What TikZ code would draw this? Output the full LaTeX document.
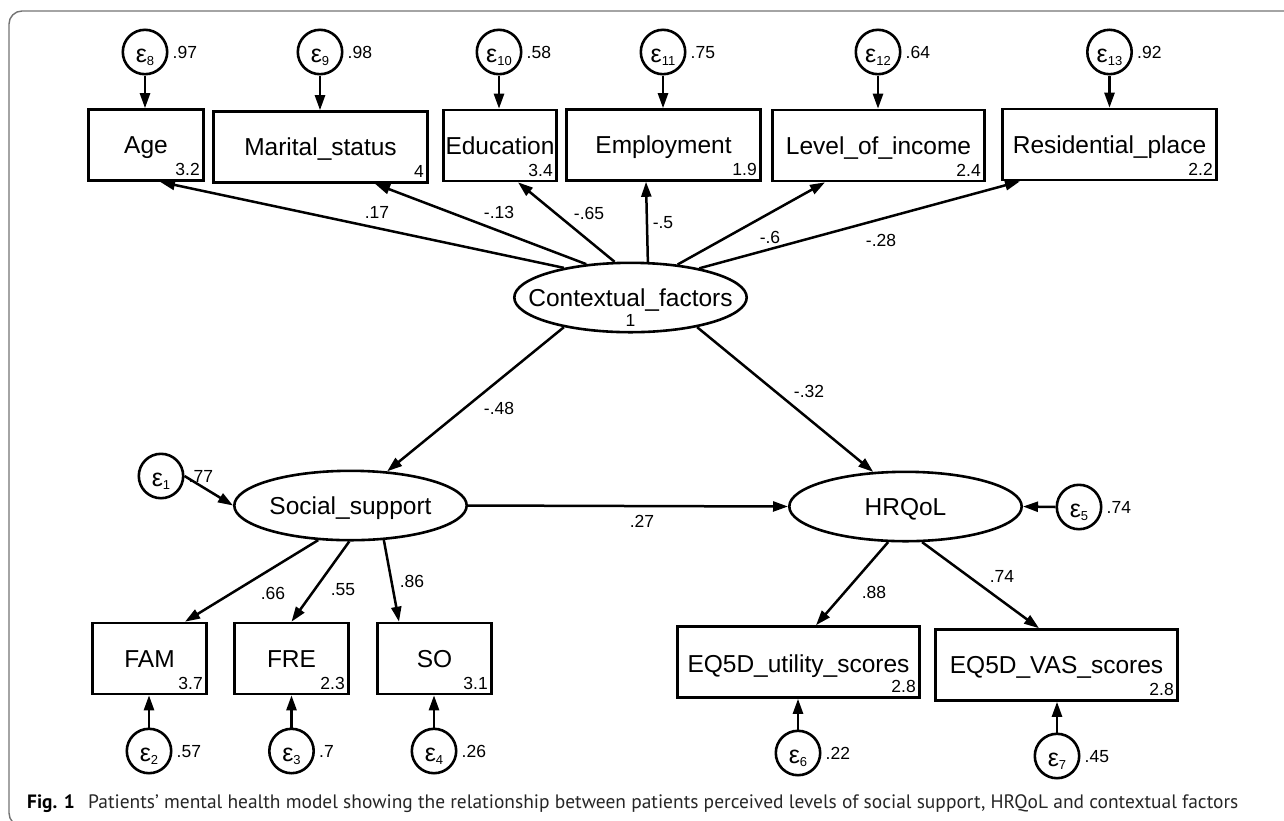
\documentclass[tikz,border=0pt]{standalone}
\usepackage{fontspec}
\setmainfont{Liberation Sans}
\newfontfamily\capfont{PT Sans}
\usetikzlibrary{arrows.meta,shapes.geometric}
\tikzset{
  obs/.style={draw, line width=2.6pt, rectangle, minimum height=71pt, inner sep=0pt,
    font=\fontsize{24.5}{28}\selectfont, text height=17.5pt, text depth=0pt},
  lat/.style={draw, line width=2.6pt, ellipse, minimum width=232.4pt, minimum height=69.4pt, inner sep=0pt,
    font=\fontsize{24.5}{28}\selectfont, text height=17.5pt, text depth=0pt},
  err/.style={draw, line width=2.6pt, circle, minimum size=44.4pt, inner sep=0pt,
    font=\fontsize{25}{28}\selectfont, text height=13pt, text depth=0pt},
  num/.style={inner sep=0pt, font=\fontsize{17.5}{20}\selectfont, text height=12.5pt, text depth=0pt},
  var/.style={num, anchor=west, xshift=4pt},
  mean/.style={label={[num, anchor=south east, xshift=-5pt, yshift=6pt]south east:#1}},
  pth/.style={line width=2.5pt, -{Triangle[length=15pt,width=10pt]}},
  frame/.style={draw=black!55, line width=1.4pt, rounded corners=13pt},
}
\newcommand{\eps}[1]{\raisebox{-4pt}{ε\raisebox{-2.5pt}{\fontsize{13}{13}\selectfont #1}}}
\begin{document}
\begin{tikzpicture}[x=1pt, y=-1pt]
\useasboundingbox (0,0) rectangle (1284,820);
\begin{scope}
\clip (0,0) rectangle (1284,820);
\draw[frame] (1310,11) -- (9,11) -- (9,826) -- (1310,826);
\end{scope}

% top observed
\node[obs, minimum width=115.4pt, mean=3.2] (age) at (146,145) {Age};
\node[obs, minimum width=214.4pt, mean=4] (mar) at (320.5,147) {Marital\_status};
\node[obs, minimum width=113.4pt, mean=3.4] (edu) at (500,145.5) {Education};
\node[obs, minimum width=194.4pt, mean=1.9] (emp) at (663.5,145) {Employment};
\node[obs, minimum width=212.4pt, mean=2.4] (inc) at (878.5,145.5) {Level\_of\_income};
\node[obs, minimum width=214.4pt, mean=2.2] (res) at (1109.5,144.5) {Residential\_place};

% top errors
\node[err] (e8) at (145,52) {\eps{8}};
\node[err] (e9) at (320,52) {\eps{9}};
\node[err] (e10) at (499,52) {\eps{10}};
\node[err] (e11) at (663,52) {\eps{11}};
\node[err] (e12) at (878,52) {\eps{12}};
\node[err] (e13) at (1109.5,52) {\eps{13}};
\node[var] (v8) at (e8.east) {.97};
\node[var] (v9) at (e9.east) {.98};
\node[var] (v10) at (e10.east) {.58};
\node[var] (v11) at (e11.east) {.75};
\node[var] (v12) at (e12.east) {.64};
\node[var] (v13) at (e13.east) {.92};

% latents
\node[lat] (ctx) at (630.5,297.5) {\makebox[0pt]{Contextual\_factors}};
\node[num] (ctxm) at (630.5,320.5) {1};
\node[lat] (soc) at (350.5,505.5) {\makebox[0pt]{Social\_support}};
\node[lat] (hrq) at (905.5,506.5) {\makebox[0pt]{HRQoL}};

% bottom observed
\node[obs, minimum width=114.4pt, mean=3.7] (fam) at (149.5,658.5) {FAM};
\node[obs, minimum width=114.4pt, mean=2.3] (fre) at (291.5,658.5) {FRE};
\node[obs, minimum width=114.4pt, mean=3.1] (so) at (434.5,658.5) {SO};
\node[obs, minimum width=242.4pt, mean=2.8] (utl) at (798.5,662) {\raisebox{-2pt}{EQ5D\_utility\_scores}};
\node[obs, minimum width=242.4pt, mean=2.8] (vas) at (1056.5,665) {EQ5D\_VAS\_scores};

% other errors
\node[err] (e1) at (161,476) {\eps{1}};
\node[err] (e2) at (149,751) {\eps{2}};
\node[err] (e3) at (291.5,751) {\eps{3}};
\node[err] (e4) at (434,751) {\eps{4}};
\node[err] (e5) at (1079,507) {\eps{5}};
\node[err] (e6) at (798,753) {\eps{6}};
\node[err] (e7) at (1057,756) {\eps{7}};
\node[var] (v1) at (e1.east) {.77};
\node[var] (v2) at (e2.east) {.57};
\node[var] (v3) at (e3.east) {.7};
\node[var] (v4) at (e4.east) {.26};
\node[var] (v5) at (e5.east) {.74};
\node[var] (v6) at (e6.east) {.22};
\node[var] (v7) at (e7.east) {.45};

% error paths
\draw[pth] (e8.south) -- (e8.south |- age.north);
\draw[pth] (e9.south) -- (e9.south |- mar.north);
\draw[pth] (e10.south) -- (e10.south |- edu.north);
\draw[pth] (e11.south) -- (e11.south |- emp.north);
\draw[pth] (e12.south) -- (e12.south |- inc.north);
\draw[pth] (e13.south) -- (e13.south |- res.north);
\draw[pth] (e2.north) -- (e2.north |- fam.south);
\draw[pth] (e3.north) -- (e3.north |- fre.south);
\draw[pth] (e4.north) -- (e4.north |- so.south);
\draw[pth] (e6.north) -- (e6.north |- utl.south);
\draw[pth] (e7.north) -- (e7.north |- vas.south);
\draw[pth] (e1.east) -- (soc.west);
\draw[pth] (e5.west) -- (hrq.east);

% structural paths
\draw[pth] (ctx.156.8) -- ([xshift=14pt]age.south);
\draw[pth] (ctx.143.3) -- ([xshift=54.5pt]mar.south);
\draw[pth] (ctx.114.7) -- ([xshift=18pt]edu.south);
\draw[pth] (ctx.64) -- ([xshift=-17.5pt]emp.south);
\draw[pth] (ctx.35) -- ([xshift=-53.5pt]inc.south);
\draw[pth] (ctx.23.3) -- ([xshift=-89.5pt]res.south);
\draw[pth] (ctx.204.5) -- (soc.43);
\draw[pth] (ctx.336) -- (hrq.133.3);
\draw[pth] (soc.east) -- (hrq.west);
\draw[pth] (soc.227.2) -- ([xshift=35.5pt]fam.north);
\draw[pth] (soc.268) -- (fre.north);
\draw[pth] (soc.314.6) -- ([xshift=-35.5pt]so.north);
\draw[pth] (hrq.244.4) -- ([xshift=17.5pt]utl.north);
\draw[pth] (hrq.295.6) -- ([xshift=-17.5pt]vas.north);

% path coefficients
\node[num] (c1) at (377,212) {.17};
\node[num] (c2) at (499,212) {-.13};
\node[num] (c3) at (589,213) {-.65};
\node[num] (c4) at (663,222) {-.5};
\node[num] (c5) at (770,237) {-.6};
\node[num] (c6) at (881,240) {-.28};
\node[num] (c7) at (499,408) {-.48};
\node[num] (c8) at (809,391) {-.32};
\node[num] (c9) at (642,521) {.27};
\node[num] (c10) at (273,593) {.66};
\node[num] (c11) at (343,589) {.55};
\node[num] (c12) at (412,581) {.86};
\node[num] (c13) at (874,592) {.88};
\node[num] (c14) at (1002,576) {.74};

% caption
\node[anchor=base west, inner sep=0pt, font=\capfont\fontsize{19.3}{22}\selectfont] (fig) at (27,808)
  {\textbf{Fig. 1}};
\node[anchor=base west, inner sep=0pt, font=\capfont\fontsize{19.45}{22}\selectfont, color=black!85] (cap) at (88,808)
  {Patients’ mental health model showing the relationship between patients perceived levels of social support, HRQoL and contextual factors};
\end{tikzpicture}
\end{document}
